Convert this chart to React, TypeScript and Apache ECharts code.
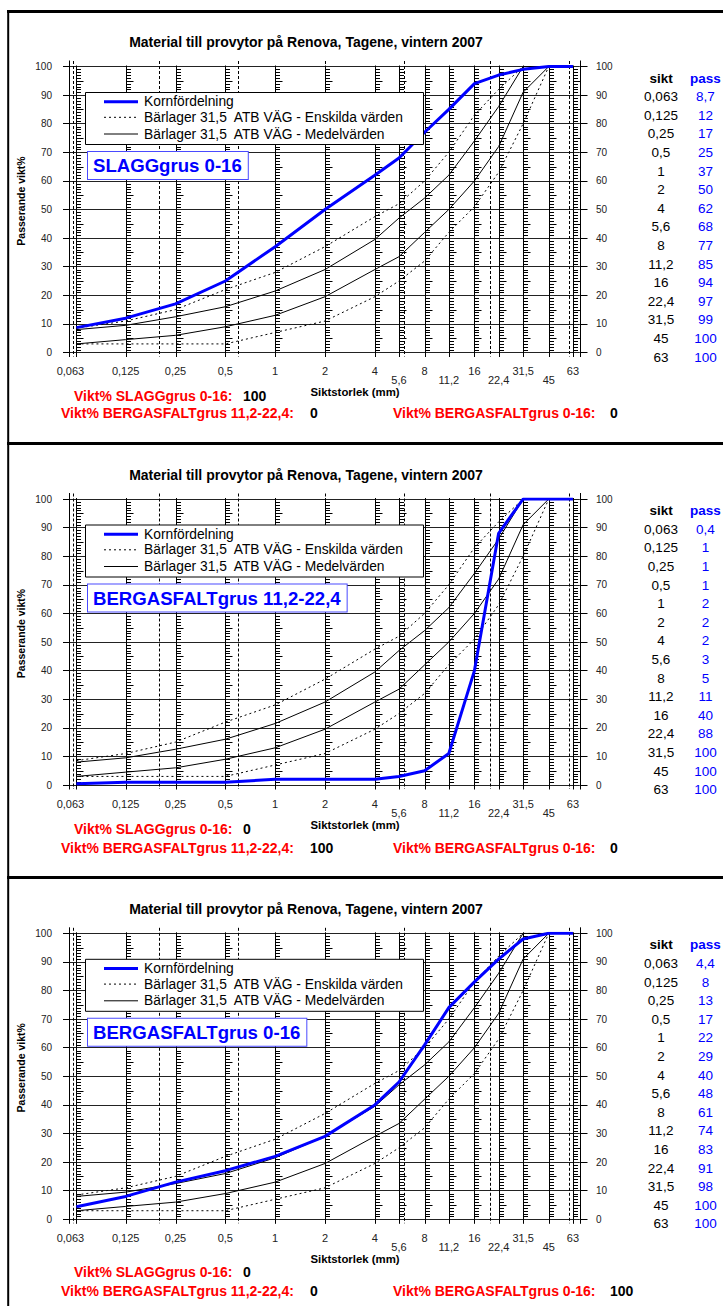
import React, { useEffect, useRef } from 'react';
import * as echarts from 'echarts';

// Sieve sizes (mm) and their axis labels
const sieves = [0.063, 0.125, 0.25, 0.5, 1, 2, 4, 5.6, 8, 11.2, 16, 22.4, 31.5, 45, 63];
const sieveLabels = ['0,063', '0,125', '0,25', '0,5', '1', '2', '4', '5,6', '8', '11,2', '16', '22,4', '31,5', '45', '63'];
// Labels printed on the lower label row
const lowerRowLabels = ['5,6', '11,2', '22,4', '45'];
// Fraction boundaries drawn as dashed verticals
const fractionLimits = [0.06, 0.2, 0.6, 2, 6, 20, 60];

// Bärlager 31,5 ATB VÄG grading limits (sieves 0,063 – 45)
const limitSieves = [0.063, 0.125, 0.25, 0.5, 1, 2, 4, 5.6, 8, 11.2, 16, 22.4, 31.5, 45];
const enskildaLower = [3, 3, 3, 3, 7, 11, 19.5, 25, 32, 42, 51, 63, 80, 100];
const enskildaUpper = [8.5, 11, 15, 22, 28, 37, 47.5, 52, 60, 70, 83, 92, 100, 100];
const medelLower = [3, 4.5, 6, 9, 13, 19.5, 29, 33.5, 42, 50, 60, 72, 91, 100];
const medelUpper = [8, 9.5, 12.5, 16, 21.5, 29, 39.5, 47, 54, 62, 74, 86, 100, 100];

// Passing % (kornfördelning) per material
const passSlagg = [8.7, 12, 17, 25, 37, 50, 62, 68, 77, 85, 94, 97, 99, 100, 100];
const passBergasfalt1122 = [0.4, 1, 1, 1, 2, 2, 2, 3, 5, 11, 40, 88, 100, 100, 100];
const passBergasfalt016 = [4.4, 8, 13, 17, 22, 29, 40, 48, 61, 74, 83, 91, 98, 100, 100];

const materials = ['SLAGGgrus 0-16', 'BERGASFALTgrus 11,2-22,4', 'BERGASFALTgrus 0-16'];
const passByMaterial = [passSlagg, passBergasfalt1122, passBergasfalt016];
const viktSlagg = [100, 0, 0];
const viktBergasfalt1122 = [0, 100, 0];
const viktBergasfalt016 = [0, 0, 100];

const title = 'Material till provytor på Renova, Tagene, vintern 2007';
const legendNames = [
  'Kornfördelning',
  'Bärlager 31,5  ATB VÄG - Enskilda värden',
  'Bärlager 31,5  ATB VÄG - Medelvärden',
];

// ---- layout ----
const W = 723;
const H = 1306;
const FONT = "'Liberation Sans', Arial, Helvetica, sans-serif";
const X_MIN = 0.0568;
const X_MAX = 69;
const GRID_LEFT = 69;
const GRID_W = 510.5;
const GRID_TOP = 66.5;
const GRID_H = 286;
const PANEL_DY = [0, 432.5, 866.8];
const VIKT_Y = [
  [396, 413, 413],
  [829, 848, 848],
  [1272, 1291, 1291],
];
const BLUE = '#0000ff';

// Sieve line with a small ruler of 1 % ticks on its right side
const RulerShape = echarts.graphic.extendShape({
  shape: { x: 0, y0: 0, y100: 0, top: 0, bottom: 0 },
  buildPath(ctx: any, shape: any) {
    const { x, y0, y100, top, bottom } = shape;
    ctx.moveTo(x, top);
    ctx.lineTo(x, bottom);
    const unit = (y0 - y100) / 100;
    for (let v = 1; v < 100; v++) {
      if (v % 10 === 0) continue;
      const y = Math.round(y0 - v * unit) + 0.5;
      const len = v % 5 === 0 ? 7 : 4.5;
      ctx.moveTo(x, y);
      ctx.lineTo(x + len, y);
    }
  },
});
echarts.graphic.registerShape('sieveRuler', RulerShape);

const snap = (v: number) => Math.round(v) + 0.5;

function rulerItem(_params: any, api: any) {
  const s = api.value(0);
  const p100 = api.coord([s, 100]);
  const p0 = api.coord([s, 0]);
  const x = snap(p0[0]);
  return {
    type: 'sieveRuler',
    shape: { x, y0: p0[1], y100: p100[1], top: p100[1] - 1, bottom: p0[1] + 4.5 },
    style: { stroke: '#000', lineWidth: 1, fill: null },
    silent: true,
  };
}

function verticalItem(dash: number[] | null, above: number, below: number) {
  return (_params: any, api: any) => {
    const s = api.value(0);
    const p100 = api.coord([s, 100]);
    const p0 = api.coord([s, 0]);
    const x = snap(p0[0]);
    return {
      type: 'line',
      shape: { x1: x, y1: p100[1] - above, x2: x, y2: p0[1] + below },
      style: { stroke: '#000', lineWidth: 1, lineDash: dash || undefined },
      silent: true,
    };
  };
}

function xLabelItem(params: any, api: any) {
  const i = params.dataIndex;
  const s = api.value(0);
  const p0 = api.coord([s, 0]);
  const label = sieveLabels[i];
  const lower = lowerRowLabels.includes(label);
  return {
    type: 'text',
    x: p0[0] + (i === 0 ? -6 : 0),
    y: p0[1] + (lower ? 27.5 : 18.5),
    style: {
      text: label,
      fontSize: 11,
      fontFamily: FONT,
      fill: '#222',
      align: 'center',
      verticalAlign: 'middle',
      textAlign: 'center',
      textVerticalAlign: 'middle',
    },
    silent: true,
  };
}

function txt(x: number, y: number, text: string, o: any = {}) {
  return {
    type: 'text',
    x,
    y,
    z: o.z ?? 20,
    rotation: o.rotation ?? 0,
    silent: true,
    style: {
      text,
      fontSize: o.size ?? 12,
      fontWeight: o.bold ? 'bold' : 'normal',
      fontFamily: FONT,
      fill: o.color ?? '#000',
      align: o.align ?? 'left',
      verticalAlign: 'middle',
      textAlign: o.align ?? 'left',
      textVerticalAlign: 'middle',
      ...(o.extra || {}),
    },
  };
}

function hline(x1: number, y: number, x2: number, width: number, color = '#000', dash?: number[]) {
  return {
    type: 'line',
    z: 30,
    silent: true,
    shape: { x1, y1: y, x2, y2: y },
    style: { stroke: color, lineWidth: width, lineDash: dash },
  };
}

function buildOption() {
  const grid: any[] = [];
  const xAxis: any[] = [];
  const yAxis: any[] = [];
  const series: any[] = [];
  const graphic: any[] = [];

  materials.forEach((material, k) => {
    const dy = PANEL_DY[k];
    grid.push({ left: GRID_LEFT, top: GRID_TOP + dy, width: GRID_W, height: GRID_H });
    xAxis.push({
      type: 'log',
      logBase: 10,
      gridIndex: k,
      min: X_MIN,
      max: X_MAX,
      axisLine: { show: false },
      axisTick: { show: false },
      axisLabel: { show: false },
      splitLine: { show: false },
    });
    const yCommon = {
      type: 'value',
      gridIndex: k,
      min: 0,
      max: 100,
      interval: 10,
      axisLine: { show: false },
    };
    yAxis.push({
      ...yCommon,
      position: 'left',
      axisTick: { show: true, length: 6, lineStyle: { color: '#000', width: 1 } },
      axisLabel: { fontSize: 10, color: '#222', margin: 17, fontFamily: FONT },
      splitLine: { show: true, lineStyle: { color: '#222', width: 1 } },
    });
    yAxis.push({
      ...yCommon,
      position: 'right',
      axisTick: { show: true, length: 8, lineStyle: { color: '#000', width: 1 } },
      axisLabel: { fontSize: 10, color: '#222', margin: 16.5, fontFamily: FONT },
      splitLine: { show: false },
    });

    const axes = { xAxisIndex: k, yAxisIndex: 2 * k };
    series.push({
      type: 'custom',
      ...axes,
      silent: true,
      z: 2,
      renderItem: rulerItem,
      data: sieves.map((s) => [s, 0]),
    });
    series.push({
      type: 'custom',
      ...axes,
      silent: true,
      z: 2,
      renderItem: verticalItem([3, 2], 5.5, 4),
      data: fractionLimits.map((s) => [s, 0]),
    });
    series.push({
      type: 'custom',
      ...axes,
      silent: true,
      z: 2,
      renderItem: verticalItem(null, 6, 4.5),
      data: [[X_MIN, 0], [X_MAX, 0]],
    });
    series.push({
      type: 'custom',
      ...axes,
      silent: true,
      z: 2,
      renderItem: xLabelItem,
      data: sieves.map((s) => [s, 0]),
    });

    const limitLine = (name: string, values: number[], dotted: boolean) => ({
      type: 'line',
      name,
      ...axes,
      silent: true,
      symbol: 'none',
      z: 3,
      lineStyle: { color: '#000', width: 1, type: dotted ? [2, 3] : 'solid' },
      data: limitSieves.map((s, i) => [s, values[i]]),
    });
    series.push(limitLine(legendNames[1], enskildaLower, true));
    series.push(limitLine(legendNames[1], enskildaUpper, true));
    series.push(limitLine(legendNames[2], medelLower, false));
    series.push(limitLine(legendNames[2], medelUpper, false));
    series.push({
      type: 'line',
      name: legendNames[0],
      ...axes,
      silent: true,
      symbol: 'none',
      z: 4,
      lineStyle: { color: BLUE, width: 3 },
      data: sieves.map((s, i) => [s, passByMaterial[k][i]]),
    });

    // titles
    graphic.push(txt(306, 42 + dy, title, { bold: true, size: 14, align: 'center' }));
    graphic.push(
      txt(21, 201 + dy, 'Passerande vikt%', { bold: true, size: 10.5, align: 'center', rotation: Math.PI / 2 })
    );
    graphic.push(txt(355, 392 + dy, 'Siktstorlek (mm)', { bold: true, size: 11.4, align: 'center' }));

    // legend box
    const ly = 92 + dy;
    graphic.push({
      type: 'rect',
      z: 10,
      silent: true,
      shape: { x: 85.5, y: ly + 0.5, width: 338, height: 52 },
      style: { fill: '#fff', stroke: '#000', lineWidth: 1 },
    });
    const rows = [101.7, 117.3, 134].map((v) => v + dy);
    graphic.push(hline(104, rows[0], 138, 3, BLUE));
    graphic.push(hline(104, rows[1], 138, 1, '#000', [2, 3]));
    graphic.push(hline(104, rows[2], 138, 1, '#000'));
    legendNames.forEach((n, i) => graphic.push(txt(144, rows[i], n, { size: 13.8, z: 30 })));

    // material label box
    graphic.push(
      txt(88, 165.5 + dy, material, {
        bold: true,
        size: 18.6,
        color: BLUE,
        z: 30,
        extra: {
          backgroundColor: '#fff',
          borderColor: '#4a4aff',
          borderWidth: 1,
          padding: [3, 6, 3, 5],
          lineHeight: 21,
        },
      })
    );

    // sieve / passing table
    graphic.push(txt(661, 78 + dy, 'sikt', { bold: true, size: 13.5, align: 'center' }));
    graphic.push(txt(705.5, 78 + dy, 'pass', { bold: true, size: 13.5, align: 'center', color: BLUE }));
    sieves.forEach((_s, i) => {
      const y = 96.7 + 18.6 * i + dy;
      graphic.push(txt(661, y, sieveLabels[i], { size: 13.5, align: 'center' }));
      graphic.push(
        txt(705.5, y, String(passByMaterial[k][i]).replace('.', ','), { size: 13.5, align: 'center', color: BLUE })
      );
    });

    // weight shares
    const vy = VIKT_Y[k];
    graphic.push(txt(74, vy[0], 'Vikt% SLAGGgrus 0-16:', { bold: true, size: 14, color: '#ff0000' }));
    graphic.push(txt(243, vy[0], String(viktSlagg[k]), { bold: true, size: 14 }));
    graphic.push(txt(61, vy[1], 'Vikt% BERGASFALTgrus 11,2-22,4:', { bold: true, size: 14, color: '#ff0000' }));
    graphic.push(txt(310, vy[1], String(viktBergasfalt1122[k]), { bold: true, size: 14 }));
    graphic.push(txt(393, vy[2], 'Vikt% BERGASFALTgrus 0-16:', { bold: true, size: 14, color: '#ff0000' }));
    graphic.push(txt(610, vy[2], String(viktBergasfalt016[k]), { bold: true, size: 14 }));
  });

  // sheet borders
  graphic.push(hline(7, 11.5, W, 3));
  graphic.push(hline(7, 443.5, W, 3));
  graphic.push(hline(7, 877.5, W, 3));
  graphic.push({
    type: 'line',
    z: 30,
    silent: true,
    shape: { x1: 8.2, y1: 10, x2: 8.2, y2: H },
    style: { stroke: '#000', lineWidth: 2 },
  });

  return {
    animation: false,
    backgroundColor: '#fff',
    grid,
    xAxis,
    yAxis,
    series,
    graphic: { elements: graphic },
  };
}

export default function App() {
  const ref = useRef<HTMLDivElement>(null);
  useEffect(() => {
    document.body.style.margin = '0';
    const chart = echarts.init(ref.current!, null, { renderer: 'svg' });
    chart.setOption(buildOption() as any);
    return () => chart.dispose();
  }, []);
  return <div ref={ref} style={{ width: W, height: H, background: '#fff' }} />;
}
